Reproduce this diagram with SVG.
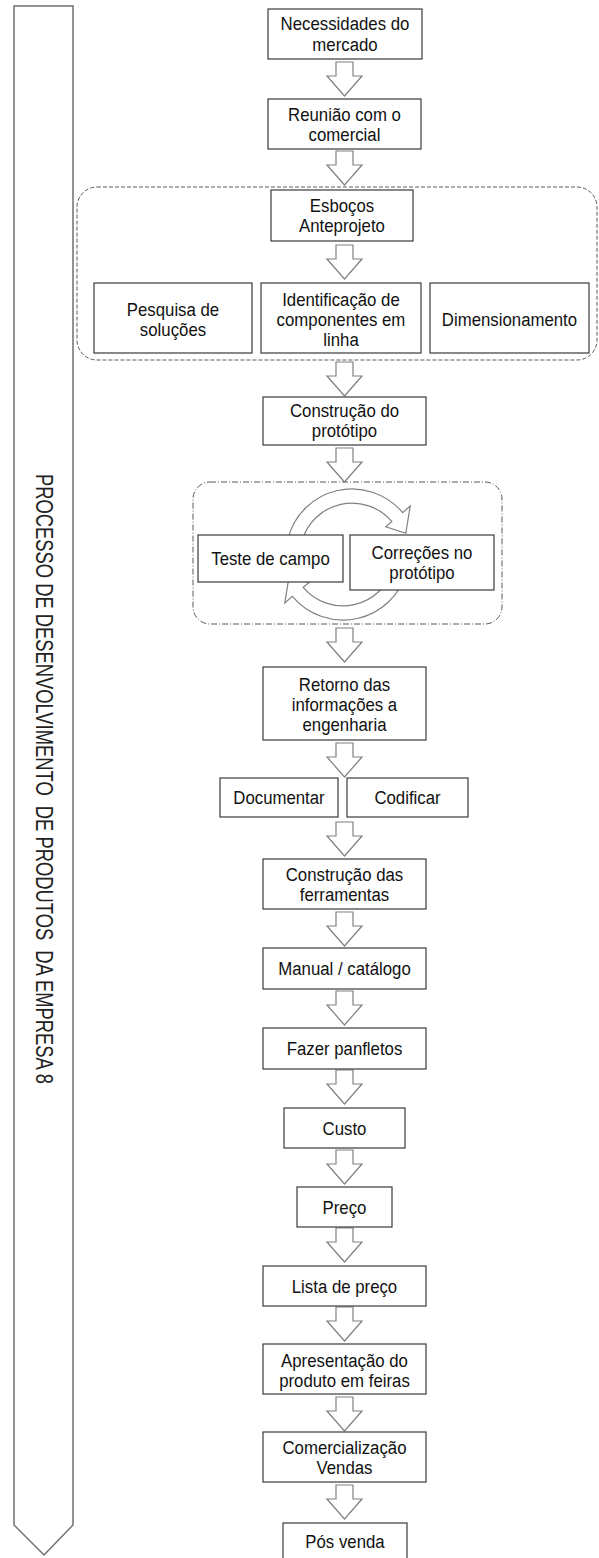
<svg xmlns="http://www.w3.org/2000/svg" width="599" height="1558" viewBox="0 0 599 1558">
  <style>
    .box { fill: #ffffff; stroke: #3a3a3a; stroke-width: 1.2; }
    .lbl { font-family: "Liberation Sans", Arial, sans-serif; font-size: 16.8px; fill: #111; text-anchor: middle;
           transform-box: fill-box; transform-origin: center; transform: scaleY(1.1); }
    .blk { fill: #ffffff; stroke: #808080; stroke-width: 1.2; stroke-linejoin: miter; }
    .grp1 { fill: none; stroke: #5a5a5a; stroke-width: 1; stroke-dasharray: 4 2; }
    .grp2 { fill: none; stroke: #5a5a5a; stroke-width: 1; stroke-dasharray: 6 2 1 2; }
    .side { fill: #ffffff; stroke: #707070; stroke-width: 1.5; }
    .sidetxt { font-family: "Liberation Sans", Arial, sans-serif; font-size: 24px; fill: #222; text-anchor: middle; }
  </style>
  <defs>
    <!-- block arrow pointing down, top at (0,0), centred on x=0 -->
    <polygon id="down" points="-8.5,0 8.5,0 8.5,14 17.5,14 0,34 -17.5,14 -8.5,14"/>
  </defs>

  <rect width="599" height="1558" fill="#ffffff"/>

  <!-- process band on the left -->
  <g id="process-band">
    <polygon class="side" points="14,6 73,6 73,1525 44,1555 14,1525"/>
    <text class="sidetxt" xml:space="preserve" transform="translate(44,779) rotate(90)" y="8.5" textLength="610" lengthAdjust="spacingAndGlyphs">PROCESSO DE DESENVOLVIMENTO  DE PRODUTOS  DA EMPRESA 8</text>
  </g>

  <!-- group outlines -->
  <g id="group-anteprojeto">
    <rect class="grp1" x="77" y="187" width="520" height="173" rx="20" ry="20"/>
  </g>
  <g id="group-teste">
    <rect class="grp2" x="193" y="482" width="309" height="142" rx="17" ry="17"/>
  </g>

  <!-- connectors -->
  <g id="connectors">
    <use href="#down" class="blk" x="344.5" y="62"/>
    <use href="#down" class="blk" x="344.5" y="151"/>
    <use href="#down" class="blk" x="344.5" y="245"/>
    <use href="#down" class="blk" x="344.5" y="362"/>
    <use href="#down" class="blk" x="344.5" y="448"/>
    <use href="#down" class="blk" x="344.5" y="628"/>
    <use href="#down" class="blk" x="344.5" y="743"/>
    <use href="#down" class="blk" x="344.5" y="822"/>
    <use href="#down" class="blk" x="344.5" y="912"/>
    <use href="#down" class="blk" x="344.5" y="991"/>
    <use href="#down" class="blk" x="344.5" y="1070"/>
    <use href="#down" class="blk" x="344.5" y="1150"/>
    <use href="#down" class="blk" x="344.5" y="1228"/>
    <use href="#down" class="blk" x="344.5" y="1307"/>
    <use href="#down" class="blk" x="344.5" y="1397"/>
    <use href="#down" class="blk" x="344.5" y="1485"/>
    <!-- loop between field test and corrections -->
    <path class="blk" d="M288.2,537.9 A66,66 0 0 1 402.6,512.6 L410.2,506.1 L405.8,533.3 L385.7,526.7 L391.8,521.6 A52,52 0 0 0 301.8,541.5 Z"/>
    <path class="blk" d="M406.8,571.1 A66,66 0 0 1 292.4,596.4 L284.8,602.9 L289.2,575.7 L309.3,582.3 L303.2,587.4 A52,52 0 0 0 393.2,567.5 Z"/>
  </g>

  <!-- nodes -->
  <g id="n-necessidades">
    <rect class="box" x="268" y="9" width="154" height="50"/>
    <text class="lbl" x="345" y="29.5">Necessidades do</text>
    <text class="lbl" x="345" y="50">mercado</text>
  </g>
  <g id="n-reuniao">
    <rect class="box" x="268" y="99" width="153" height="50"/>
    <text class="lbl" x="344.5" y="120">Reunião com o</text>
    <text class="lbl" x="344.5" y="140">comercial</text>
  </g>
  <g id="n-esbocos">
    <rect class="box" x="271" y="190" width="142" height="51"/>
    <text class="lbl" x="342" y="211.5">Esboços</text>
    <text class="lbl" x="342" y="231.5">Anteprojeto</text>
  </g>
  <g id="n-pesquisa">
    <rect class="box" x="94" y="283" width="158" height="70"/>
    <text class="lbl" x="173" y="315">Pesquisa de</text>
    <text class="lbl" x="173" y="335">soluções</text>
  </g>
  <g id="n-identificacao">
    <rect class="box" x="261" y="283" width="160" height="70"/>
    <text class="lbl" x="341" y="305">Identificação de</text>
    <text class="lbl" x="341" y="325">componentes em</text>
    <text class="lbl" x="341" y="345">linha</text>
  </g>
  <g id="n-dimensionamento">
    <rect class="box" x="430" y="283" width="159" height="70"/>
    <text class="lbl" x="509.5" y="325">Dimensionamento</text>
  </g>
  <g id="n-construcao-prototipo">
    <rect class="box" x="263" y="397" width="163" height="48"/>
    <text class="lbl" x="344.5" y="416">Construção do</text>
    <text class="lbl" x="344.5" y="436">protótipo</text>
  </g>
  <g id="n-teste">
    <rect class="box" x="198" y="535" width="145" height="47"/>
    <text class="lbl" x="270.5" y="564">Teste de campo</text>
  </g>
  <g id="n-correcoes">
    <rect class="box" x="350" y="535" width="144" height="55"/>
    <text class="lbl" x="422" y="558">Correções no</text>
    <text class="lbl" x="422" y="578">protótipo</text>
  </g>
  <g id="n-retorno">
    <rect class="box" x="263" y="667" width="163" height="73"/>
    <text class="lbl" x="344.5" y="690">Retorno das</text>
    <text class="lbl" x="344.5" y="710">informações a</text>
    <text class="lbl" x="344.5" y="730">engenharia</text>
  </g>
  <g id="n-documentar">
    <rect class="box" x="220" y="778" width="118" height="39"/>
    <text class="lbl" x="279" y="803.5">Documentar</text>
  </g>
  <g id="n-codificar">
    <rect class="box" x="347" y="778" width="121" height="39"/>
    <text class="lbl" x="407.5" y="803.5">Codificar</text>
  </g>
  <g id="n-ferramentas">
    <rect class="box" x="263" y="859" width="163" height="50"/>
    <text class="lbl" x="344.5" y="880">Construção das</text>
    <text class="lbl" x="344.5" y="900">ferramentas</text>
  </g>
  <g id="n-manual">
    <rect class="box" x="263" y="948" width="163" height="41"/>
    <text class="lbl" x="344.5" y="974.5">Manual / catálogo</text>
  </g>
  <g id="n-panfletos">
    <rect class="box" x="263" y="1028" width="163" height="41"/>
    <text class="lbl" x="344.5" y="1054.5">Fazer panfletos</text>
  </g>
  <g id="n-custo">
    <rect class="box" x="284" y="1108" width="121" height="40"/>
    <text class="lbl" x="344.5" y="1134">Custo</text>
  </g>
  <g id="n-preco">
    <rect class="box" x="297" y="1187" width="95" height="40"/>
    <text class="lbl" x="344.5" y="1213">Preço</text>
  </g>
  <g id="n-lista">
    <rect class="box" x="263" y="1266" width="163" height="40"/>
    <text class="lbl" x="344.5" y="1292">Lista de preço</text>
  </g>
  <g id="n-apresentacao">
    <rect class="box" x="263" y="1344" width="163" height="50"/>
    <text class="lbl" x="344.5" y="1366">Apresentação do</text>
    <text class="lbl" x="344.5" y="1386">produto em feiras</text>
  </g>
  <g id="n-comercializacao">
    <rect class="box" x="263" y="1432" width="163" height="50"/>
    <text class="lbl" x="344.5" y="1453">Comercialização</text>
    <text class="lbl" x="344.5" y="1473">Vendas</text>
  </g>
  <g id="n-pos-venda">
    <rect class="box" x="283" y="1523" width="124" height="45"/>
    <text class="lbl" x="345" y="1547">Pós venda</text>
  </g>
</svg>
